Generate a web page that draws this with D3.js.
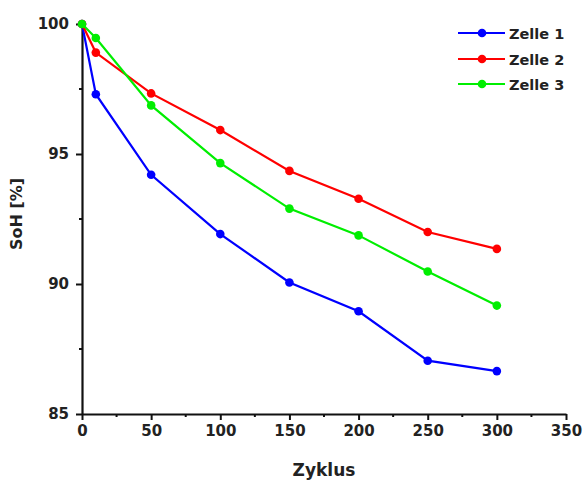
<!DOCTYPE html>
<html><head><meta charset="utf-8">
<script src="https://cdn.jsdelivr.net/npm/d3@7"></script>
<style>body{margin:0;background:#fff}svg{display:block}text{font-family:"DejaVu Sans",sans-serif;font-weight:bold;fill:#222}</style>
</head><body>
<script>
const cycles = [0, 10, 50, 100, 150, 200, 250, 300];
const zelle1 = [100, 97.3, 94.2, 91.92, 90.06, 88.95, 87.05, 86.65];
const zelle2 = [100, 98.9, 97.33, 95.92, 94.35, 93.28, 92.0, 91.35];
const zelle3 = [100, 99.46, 96.87, 94.65, 92.9, 91.87, 90.48, 89.17];
const seriesNames = ["Zelle 1", "Zelle 2", "Zelle 3"];
const seriesColors = ["#0000ff", "#ff0000", "#00ee00"];
const xTicks = [0, 50, 100, 150, 200, 250, 300, 350];
const yTicks = [85, 90, 95, 100];

const W = 585, H = 482;
const svg = d3.select("body").append("svg").attr("width", W).attr("height", H);
const x = d3.scaleLinear().domain([0, 350]).range([82, 566]);
const y = d3.scaleLinear().domain([85, 100]).range([414, 24]);

// minor ticks
const xMinor = d3.range(25, 350, 50);
const yMinor = [87.5, 92.5, 97.5];
svg.append("g").selectAll("line").data(xMinor).join("line")
  .attr("x1", d => x(d)).attr("x2", d => x(d)).attr("y1", 414).attr("y2", 417)
  .attr("stroke", "#111").attr("stroke-width", 2);
svg.append("g").selectAll("line").data(yMinor).join("line")
  .attr("x1", 79).attr("x2", 82).attr("y1", d => y(d)).attr("y2", d => y(d))
  .attr("stroke", "#111").attr("stroke-width", 2);

const xAxis = svg.append("g").attr("transform", "translate(0,414)")
  .call(d3.axisBottom(x).tickValues(xTicks).tickSize(6).tickPadding(5).tickSizeOuter(0));
const yAxis = svg.append("g").attr("transform", "translate(82,0)")
  .call(d3.axisLeft(y).tickValues(yTicks).tickSize(6).tickPadding(7).tickSizeOuter(0));
[xAxis, yAxis].forEach(a => {
  a.select(".domain").attr("stroke", "#111").attr("stroke-width", 2.2);
  a.selectAll(".tick line").attr("stroke", "#111").attr("stroke-width", 2);
  a.selectAll(".tick text").style("font-size", "15px").style("font-family", "'DejaVu Sans',sans-serif")
    .style("font-weight", "bold").attr("fill", "#222");
});

svg.append("text").attr("x", 324).attr("y", 476).attr("text-anchor", "middle")
  .style("font-size", "17px").text("Zyklus");
svg.append("text").attr("transform", "translate(22,214) rotate(-90)").attr("text-anchor", "middle")
  .style("font-size", "16px").text("SoH [%]");

const allSeries = [zelle1, zelle2, zelle3];
const line = d3.line().x((d, i) => x(cycles[i])).y(d => y(d));
allSeries.forEach((s, k) => {
  const g = svg.append("g");
  g.append("path").datum(s).attr("d", line).attr("fill", "none")
    .attr("stroke", seriesColors[k]).attr("stroke-width", 2.2);
  g.selectAll("circle").data(s).join("circle")
    .attr("cx", (d, i) => x(cycles[i])).attr("cy", d => y(d)).attr("r", 4.3)
    .attr("fill", seriesColors[k]);
});

// legend
const legY = [33, 59, 84];
seriesNames.forEach((n, k) => {
  const g = svg.append("g");
  g.append("line").attr("x1", 458).attr("x2", 505).attr("y1", legY[k]).attr("y2", legY[k])
    .attr("stroke", seriesColors[k]).attr("stroke-width", 2.2);
  g.append("circle").attr("cx", 482).attr("cy", legY[k]).attr("r", 4.3).attr("fill", seriesColors[k]);
  g.append("text").attr("x", 509).attr("y", legY[k] + 5.5).style("font-size", "14.5px").text(n);
});
</script>
</body></html>
